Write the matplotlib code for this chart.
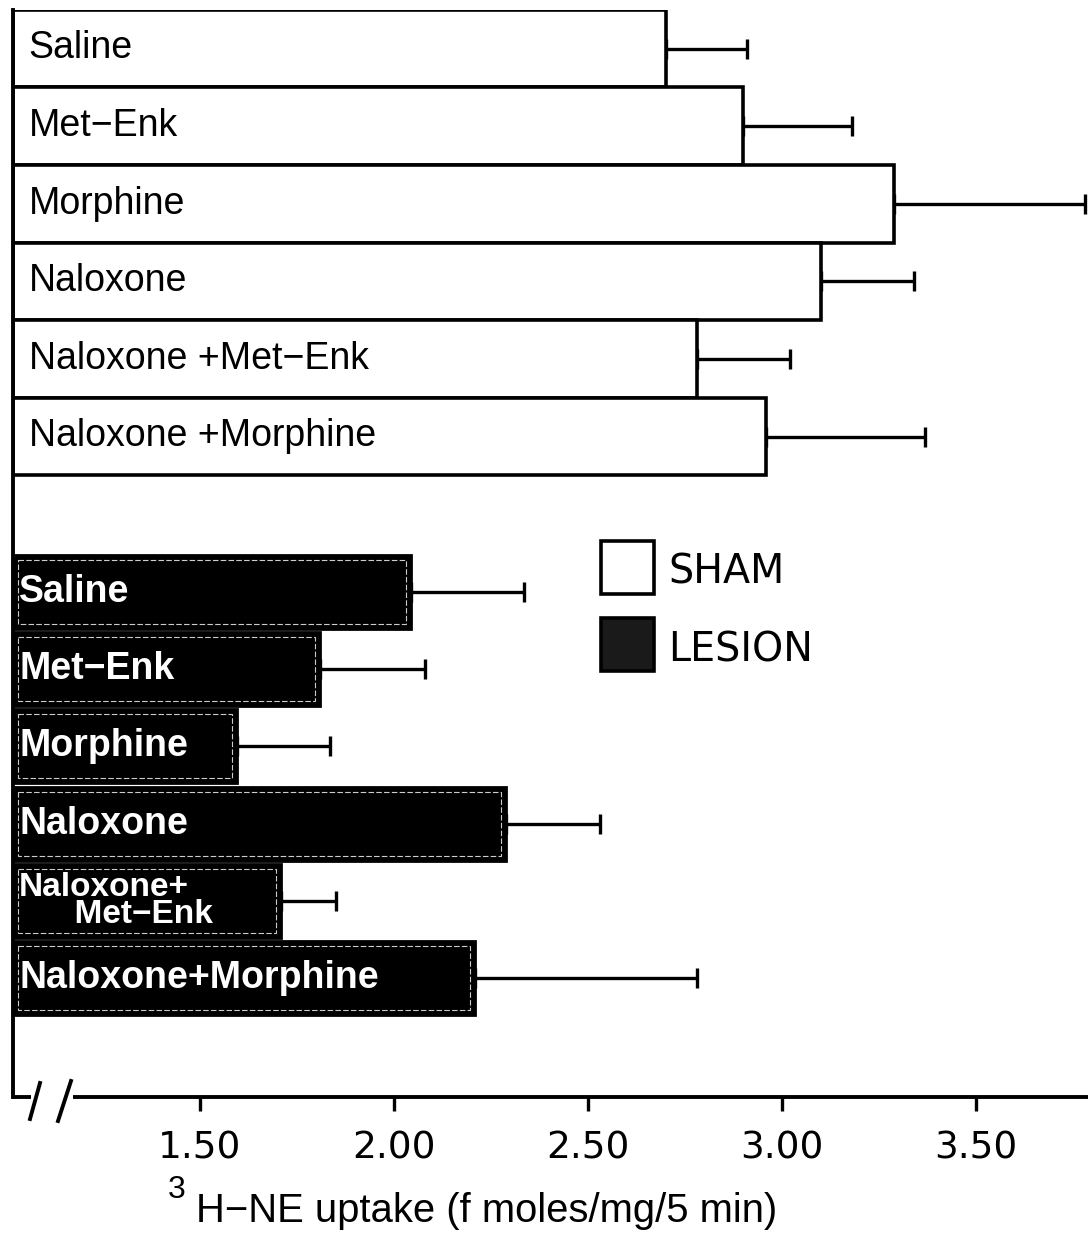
import numpy as np
import matplotlib
matplotlib.use("Agg")
import matplotlib.pyplot as plt
from matplotlib.patches import Rectangle

plt.rcParams['font.family'] = ['Liberation Sans', 'DejaVu Sans']

# treatments (same order for both groups)
sham_labels = ["Saline", "Met\u2212Enk", "Morphine", "Naloxone",
               "Naloxone +Met\u2212Enk", "Naloxone +Morphine"]
lesion_labels = ["Saline", "Met\u2212Enk", "Morphine", "Naloxone",
                 "Naloxone+\n      Met\u2212Enk", "Naloxone+Morphine"]

sham_mean = [2.70, 2.90, 3.29, 3.10, 2.78, 2.96]
sham_err = [0.21, 0.28, 0.49, 0.24, 0.24, 0.41]
lesion_mean = [2.045, 1.81, 1.595, 2.29, 1.71, 2.21]
lesion_err = [0.29, 0.27, 0.24, 0.24, 0.14, 0.57]

xticks = [1.5, 2.0, 2.5, 3.0, 3.5]
xtick_labels = ["1.50", "2.00", "2.50", "3.00", "3.50"]

x0 = 1.018
x1 = 3.807

fig = plt.figure(figsize=(10.88, 12.47), dpi=100)
# axes in pixel terms: left 13, right 1095, top 10, bottom 1097
ax = fig.add_axes([13/1088, 150/1247, 1082/1088, 1087/1247])

# y runs in "pixel rows" from the top of the figure
sham_y = 48.5 + 77.6*np.arange(6)
lesion_y = 592 + 77.2*np.arange(6)

sm = np.array(sham_mean)
lm = np.array(lesion_mean)

ax.barh(sham_y, sm - x0, left=x0, height=77.6, color="white",
        edgecolor="black", linewidth=2.6, zorder=2)
ax.errorbar(sm, sham_y, xerr=[np.zeros(6), sham_err], fmt="none",
            ecolor="black", elinewidth=2.4, capsize=7, capthick=2.4, zorder=1)

ax.barh(lesion_y, lm - x0, left=x0, height=74, color="black",
        edgecolor="black", linewidth=2.0, zorder=2)
# thin light inner outline of the dark bars
ax.barh(lesion_y, lm - x0 - 0.025, left=x0 + 0.012, height=64, color="none",
        edgecolor="#cccccc", linewidth=0.8, linestyle=(0, (5, 2)), zorder=3)
ax.errorbar(lm, lesion_y, xerr=[np.zeros(6), lesion_err], fmt="none",
            ecolor="black", elinewidth=2.4, capsize=7, capthick=2.4, zorder=1)

for y, lab in zip(sham_y, sham_labels):
    ax.text(x0 + 0.04, y, lab, fontsize=27, va="center", ha="left",
            color="black", zorder=4)
for y, lab in zip(lesion_y, lesion_labels):
    fs = 24 if "\n" in lab else 27
    ax.text(x0 + 0.016, y, lab, fontsize=fs, va="center", ha="left",
            color="white", fontweight="bold", zorder=4, linespacing=0.85)

ax.set_xlim(x0, x1)
ax.set_ylim(1097, 10)
ax.set_yticks([])
ax.set_xticks(xticks)
ax.set_xticklabels(xtick_labels, family="DejaVu Sans", fontsize=27)
ax.tick_params(axis="x", direction="out", length=10, width=2.4, pad=14)

ax.spines["top"].set_visible(False)
ax.spines["right"].set_visible(False)
ax.spines["bottom"].set_visible(False)
ax.spines["left"].set_linewidth(2.8)

# bottom axis with break marks
tr = ax.transAxes
ax.plot([0, 18/1082], [0, 0], transform=tr, color="black", lw=2.8,
        clip_on=False, solid_capstyle="butt")
ax.plot([60/1082, 1], [0, 0], transform=tr, color="black", lw=2.8,
        clip_on=False, solid_capstyle="butt")
ax.plot([17/1082, 27/1082], [-22/1087, 14/1087], transform=tr, color="black",
        lw=2.8, clip_on=False)
ax.plot([45/1082, 58/1082], [-24/1087, 16/1087], transform=tr, color="black",
        lw=2.8, clip_on=False)

# legend drawn by hand
fig.patches.append(Rectangle((601/1088, 1 - 594/1247), 53/1088, 53/1247,
                             transform=fig.transFigure, facecolor="white",
                             edgecolor="black", linewidth=2.6))
fig.patches.append(Rectangle((601/1088, 1 - 671/1247), 53/1088, 53/1247,
                             transform=fig.transFigure, facecolor="#1a1a1a",
                             edgecolor="black", linewidth=2.6))
fig.text(668/1088, 1 - 572/1247, "SHAM", family="DejaVu Sans", fontsize=28.5,
         va="center", ha="left")
fig.text(668/1088, 1 - 650/1247, "LESION", family="DejaVu Sans", fontsize=28.5,
         va="center", ha="left")

# axis title with a large raised "3"
fig.text(168/1088, 1 - 1190/1247, "3", family="Liberation Sans", fontsize=23,
         ha="left", va="center")
fig.text(487/1088, 1 - 1211/1247, "H\u2212NE uptake (f moles/mg/5 min)",
         family="Liberation Sans", fontsize=28.8, ha="center", va="center")

fig.savefig("out.png", dpi=100)
